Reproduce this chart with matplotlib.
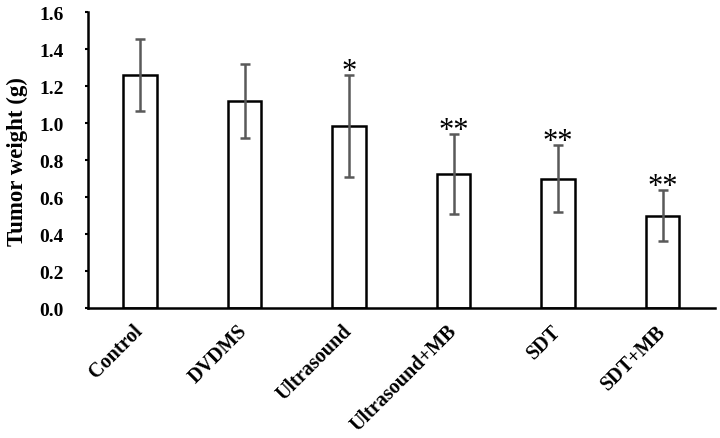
import matplotlib.pyplot as plt
import matplotlib.transforms as mtransforms
import numpy as np

GROUPS = ['Control', 'DVDMS', 'Ultrasound', 'Ultrasound+MB', 'SDT', 'SDT+MB']
WEIGHTS = [1.26, 1.12, 0.985, 0.725, 0.70, 0.50]
ERRORS = [0.195, 0.20, 0.275, 0.215, 0.18, 0.14]
STARS = ['', '', '*', '**', '**', '**']

plt.rcParams['font.family'] = 'Liberation Serif'
plt.rcParams['font.weight'] = 'bold'

fig = plt.figure(figsize=(7.2, 4.39), dpi=100)
ax = fig.add_axes([0.122, 0.296, 0.871, 0.674])

x = np.arange(len(GROUPS))
ax.bar(x, WEIGHTS, width=0.32, color='white', edgecolor='black', linewidth=1.8, zorder=2)
ax.errorbar(x, WEIGHTS, yerr=ERRORS, fmt='none', ecolor='#595959',
            elinewidth=1.8, capsize=3.3, capthick=1.8, zorder=3)

for xi, w, e, s in zip(x, WEIGHTS, ERRORS, STARS):
    if s:
        ax.annotate(s, xy=(xi, w + e), xytext=(0, -3), textcoords='offset points',
                    ha='center', va='baseline', fontsize=22, fontweight='normal')

ax.set_xlim(-0.5, 5.5)
ax.set_ylim(0, 1.6)
ticks = np.arange(0, 1.61, 0.2)
ax.set_yticks(ticks)
ax.set_yticklabels([f'{v:.1f}' for v in ticks], fontsize=14, fontweight='bold')
ax.set_xticks(x)
ax.set_xticklabels(GROUPS, rotation=45, ha='right', va='center', rotation_mode='anchor',
                   fontsize=14.5, fontweight='bold')
shift = mtransforms.ScaledTranslation(6 / 100, 0, fig.dpi_scale_trans)
for lbl in ax.get_xticklabels():
    lbl.set_transform(lbl.get_transform() + shift)
ax.tick_params(axis='x', length=0, pad=14)
ax.tick_params(axis='y', length=2.5, width=1.5, direction='out', pad=15)
ax.set_ylabel('Tumor weight (g)', fontsize=16.5, fontweight='bold', va='center')
ax.yaxis.set_label_coords(-0.113, 0.5)

for side in ['top', 'right']:
    ax.spines[side].set_visible(False)
for side in ['left', 'bottom']:
    ax.spines[side].set_linewidth(1.8)

fig.savefig('out.png', dpi=100)
